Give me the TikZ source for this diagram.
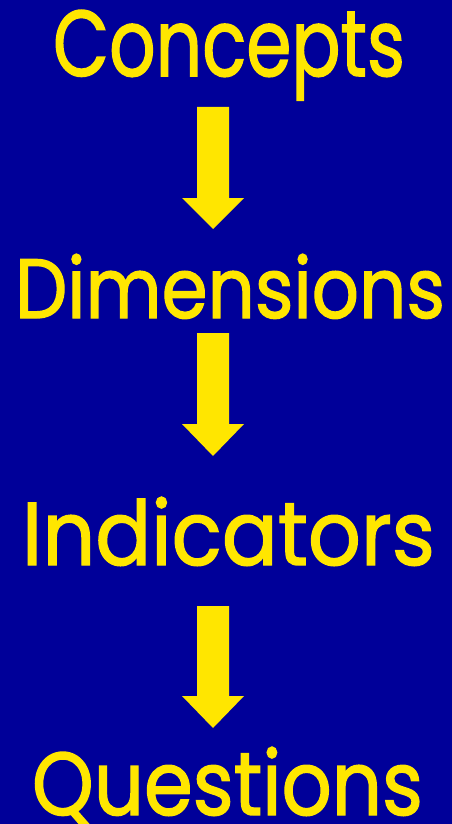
\documentclass[tikz,border=0pt]{standalone}
\usepackage{fontspec}
\usepackage{graphicx}
\setmainfont{Poppins}
\newfontfamily\lblfont[FakeBold=1.6]{Poppins}
\definecolor{bgblue}{RGB}{0,0,153}
\definecolor{ylw}{RGB}{255,230,0}
\tikzset{
  lbl/.style={anchor=base west, inner sep=0pt, outer sep=0pt, text=ylw, font=\lblfont\fontsize{90}{100}\selectfont},
  blockarrow/.style={fill=ylw, draw=none}
}
\newcommand{\downarrowblock}[3]{% top, headstart, tip
  \fill[blockarrow] (197,#1) -- (229,#1) -- (229,#2) -- (244,#2) -- (213,#3) -- (182,#2) -- (197,#2) -- cycle;}
\begin{document}
\begin{tikzpicture}[x=1pt,y=-1pt]
\fill[bgblue] (0,0) rectangle (452,824);
\useasboundingbox (0,0) rectangle (452,824);
\node[lbl] (concepts) at (53,76) {\resizebox{352pt}{66pt}{Concepts}};
\node[lbl] (dimensions) at (15,318) {\resizebox{430pt}{64pt}{Dimensions}};
\node[lbl] (indicators) at (22,565) {\resizebox{413pt}{68pt}{Indicators}};
\node[lbl] (questions) at (32,815) {\resizebox{391pt}{68pt}{Questions}};
\downarrowblock{107}{198}{229}
\downarrowblock{333}{424}{456}
\downarrowblock{606}{696}{728}
\end{tikzpicture}
\end{document}
